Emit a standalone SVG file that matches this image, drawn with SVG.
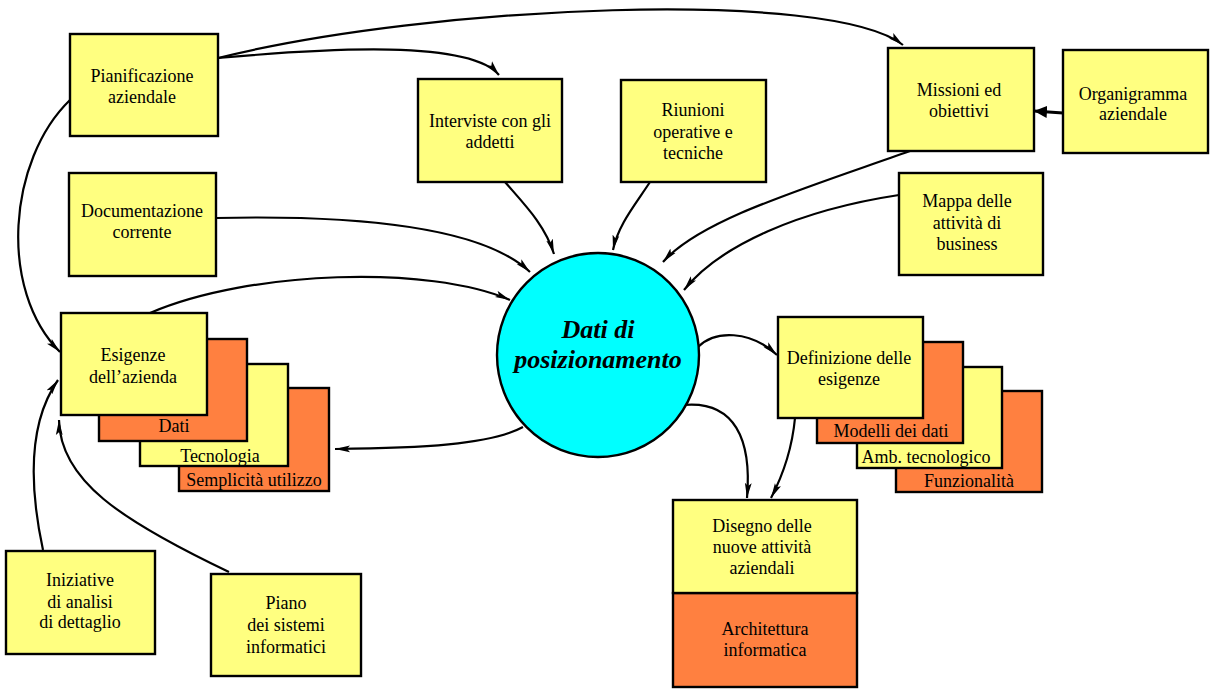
<svg xmlns="http://www.w3.org/2000/svg" width="1210" height="691" viewBox="0 0 1210 691">
  <defs>
    <style>
      .y { fill: #FFFF80; stroke: #000; stroke-width: 2.4; }
      .o { fill: #FF8040; stroke: #000; stroke-width: 2.4; }
      text { font-family: "Liberation Serif", "Times New Roman", serif; font-size: 18px; fill: #000; text-anchor: middle; }
      .title { font-size: 26px; font-weight: bold; font-style: italic; }
      .c { fill: none; stroke: #000; stroke-width: 2.2; marker-end: url(#arr); }
      .thick { fill: none; stroke: #000; stroke-width: 2.8; marker-end: url(#arrBig); }
    </style>
    <marker id="arr" markerUnits="userSpaceOnUse" markerWidth="16" markerHeight="8" refX="15" refY="4" orient="auto">
      <path d="M0,0.6 L15,4 L0,7.4 L3,4 z" fill="#000"/>
    </marker>
    <marker id="arrBig" markerUnits="userSpaceOnUse" markerWidth="14" markerHeight="12" refX="13" refY="6" orient="auto">
      <path d="M0,0 L13,6 L0,12 z" fill="#000"/>
    </marker>
  </defs>

  <rect width="1210" height="691" fill="#fff"/>

  <!-- connectors -->
  <g id="connectors">
    <path class="c" d="M218,58 C430,5 830,-12 903,45"/>
    <path class="c" d="M218,58 C330,48 470,40 499,75"/>
    <path class="c" d="M70,100 C8,160 -2,290 60,352"/>
    <path class="c" d="M43,550 C28,480 30,420 58,380"/>
    <path class="c" d="M229,572 C120,520 60,480 59,420"/>
    <path class="c" d="M216,218 C350,215 480,225 530,272"/>
    <path class="c" d="M150,313 C250,270 430,265 510,300"/>
    <path class="c" d="M505,182 C525,205 545,225 554,254"/>
    <path class="c" d="M650,182 C635,205 618,225 613,250"/>
    <path class="c" d="M910,151 C800,190 700,220 663,262"/>
    <path class="c" d="M899,195 C800,210 720,245 684,290"/>
    <path class="thick" d="M1063,113 L1034,111"/>
    <path class="c" d="M523,427 C490,445 420,448 335,449"/>
    <path class="c" d="M698,347 C715,330 750,330 777,355"/>
    <path class="c" d="M683,405 C735,400 752,440 747,498"/>
    <path class="c" d="M795,418 C792,450 783,475 771,498"/>
  </g>

  <!-- central node -->
  <g id="dati-posizionamento">
    <ellipse cx="598" cy="355" rx="101" ry="102" fill="#00FFFF" stroke="#000" stroke-width="2.4"/>
    <text class="title" x="598" y="338">Dati di</text>
    <text class="title" x="598" y="368">posizionamento</text>
  </g>

  <g id="pianificazione">
    <rect class="y" x="70" y="34" width="148" height="102"/>
    <text x="142" y="82">Pianificazione</text>
    <text x="142" y="103">aziendale</text>
  </g>

  <g id="documentazione">
    <rect class="y" x="69" y="173" width="147" height="103"/>
    <text x="142" y="217">Documentazione</text>
    <text x="142" y="238">corrente</text>
  </g>

  <g id="interviste">
    <rect class="y" x="418" y="79" width="144" height="103"/>
    <text x="490" y="127">Interviste con gli</text>
    <text x="490" y="148">addetti</text>
  </g>

  <g id="riunioni">
    <rect class="y" x="621" y="80" width="145" height="102"/>
    <text x="693" y="116">Riunioni</text>
    <text x="693" y="138">operative e</text>
    <text x="693" y="159">tecniche</text>
  </g>

  <g id="missioni">
    <rect class="y" x="888" y="48" width="146" height="103"/>
    <text x="959" y="96">Missioni ed</text>
    <text x="959" y="117">obiettivi</text>
  </g>

  <g id="organigramma">
    <rect class="y" x="1063" y="50" width="145" height="103"/>
    <text x="1133" y="100">Organigramma</text>
    <text x="1133" y="120">aziendale</text>
  </g>

  <g id="mappa">
    <rect class="y" x="899" y="173" width="144" height="102"/>
    <text x="967" y="207">Mappa delle</text>
    <text x="967" y="229">attività di</text>
    <text x="967" y="250">business</text>
  </g>

  <g id="esigenze-azienda">
    <rect class="o" x="179" y="388" width="150" height="103"/>
    <rect class="y" x="140" y="364" width="148" height="102"/>
    <rect class="o" x="99" y="339" width="148" height="102"/>
    <rect class="y" x="61" y="313" width="146" height="102"/>
    <text x="133" y="361">Esigenze</text>
    <text x="133" y="383">dell’azienda</text>
    <text x="174" y="432">Dati</text>
    <text x="220" y="462">Tecnologia</text>
    <text x="254" y="486">Semplicità utilizzo</text>
  </g>

  <g id="iniziative">
    <rect class="y" x="6" y="551" width="149" height="103"/>
    <text x="80" y="586">Iniziative</text>
    <text x="80" y="608">di analisi</text>
    <text x="80" y="628">di dettaglio</text>
  </g>

  <g id="piano">
    <rect class="y" x="211" y="574" width="150" height="102"/>
    <text x="286" y="609">Piano</text>
    <text x="286" y="631">dei sistemi</text>
    <text x="286" y="653">informatici</text>
  </g>

  <g id="definizione-esigenze">
    <rect class="o" x="896" y="391" width="146" height="101"/>
    <rect class="y" x="857" y="367" width="145" height="101"/>
    <rect class="o" x="817" y="342" width="146" height="101"/>
    <rect class="y" x="778" y="317" width="145" height="101"/>
    <text x="849" y="364">Definizione delle</text>
    <text x="849" y="385">esigenze</text>
    <text x="891" y="437">Modelli dei dati</text>
    <text x="926" y="463">Amb. tecnologico</text>
    <text x="969" y="487">Funzionalità</text>
  </g>

  <g id="disegno">
    <rect class="o" x="673" y="593" width="184" height="94"/>
    <rect class="y" x="673" y="500" width="184" height="93"/>
    <text x="762" y="532">Disegno delle</text>
    <text x="762" y="553">nuove attività</text>
    <text x="762" y="574">aziendali</text>
    <text x="765" y="635">Architettura</text>
    <text x="765" y="656">informatica</text>
  </g>
</svg>
